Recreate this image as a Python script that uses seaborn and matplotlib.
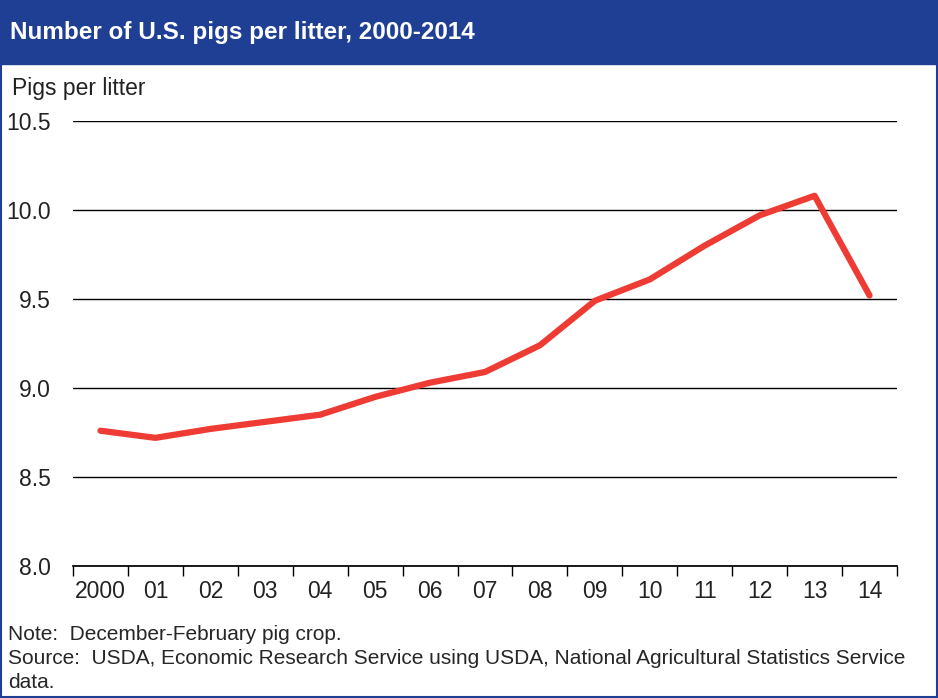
import matplotlib
matplotlib.use("Agg")
import matplotlib.pyplot as plt
import seaborn as sns
import pandas as pd
from matplotlib.patches import Rectangle

years = ["2000", "01", "02", "03", "04", "05", "06", "07", "08", "09", "10", "11", "12", "13", "14"]
pigs = [8.76, 8.72, 8.77, 8.81, 8.85, 8.95, 9.03, 9.09, 9.24, 9.49, 9.61, 9.80, 9.97, 10.08, 9.52]
yticks = [8.0, 8.5, 9.0, 9.5, 10.0, 10.5]

sns.set_theme(style="white")
plt.rcParams['font.family'] = ['Liberation Sans', 'DejaVu Sans']

df = pd.DataFrame({"x": range(len(years)), "pigs": pigs})

fig = plt.figure(figsize=(9.38, 6.98), dpi=100)
blue = "#1f3f94"
fig.patches.append(Rectangle((0, 1 - 64 / 698), 1, 64 / 698, transform=fig.transFigure,
                             color=blue, zorder=0))
fig.patches.append(Rectangle((0.001, 0.001), 0.998, 0.998, transform=fig.transFigure,
                             fill=False, edgecolor=blue, linewidth=1.5))
fig.text(10 / 938, 1 - 33 / 698, "Number of U.S. pigs per litter, 2000-2014", color="white",
         fontsize=17.5, fontweight="bold", va="center", ha="left")

ax = fig.add_axes([73 / 938, 1 - 566 / 698, 824 / 938, 445 / 698])
sns.lineplot(data=df, x="x", y="pigs", ax=ax, color="#ee3b33", linewidth=4.5)
ax.set_xlim(-0.5, len(years) - 0.5)
ax.set_ylim(8.0, 10.5)
ax.set_yticks(yticks)
ax.set_yticklabels([f"{v:.1f}" for v in yticks], fontsize=16.5, color="#222222")
ax.set_xticks(range(len(years)))
ax.set_xticklabels(years, fontsize=16.5, color="#222222")
ax.set_xticks([i - 0.5 for i in range(len(years) + 1)], minor=True)
ax.tick_params(axis="x", which="major", length=0, pad=10)
ax.tick_params(axis="x", which="minor", bottom=True, length=7, width=1, color="black", direction="out")
ax.tick_params(axis="y", length=0, pad=16)
for lbl in ax.get_yticklabels():
    lbl.set_horizontalalignment("right")
ax.grid(axis="y", color="black", linewidth=1)
for s in ["top", "right", "left"]:
    ax.spines[s].set_visible(False)
ax.spines["bottom"].set_color("black")
ax.set_xlabel("")
ax.set_ylabel("")

fig.text(12 / 938, 1 - 88 / 698, "Pigs per litter", fontsize=16.5, color="#222222", va="center")
fig.text(8 / 938, 1 - 634 / 698, "Note:  December-February pig crop.", fontsize=15, va="center")
fig.text(8 / 938, 1 - 659 / 698,
         "Source:  USDA, Economic Research Service using USDA, National Agricultural Statistics Service",
         fontsize=15, va="center")
fig.text(8 / 938, 1 - 683 / 698, "data.", fontsize=15, va="center")

fig.savefig("out.png", dpi=100)
